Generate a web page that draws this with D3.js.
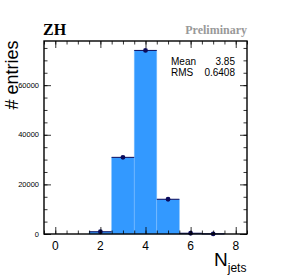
<!DOCTYPE html>
<html>
<head>
<meta charset="utf-8">
<script src="https://cdn.jsdelivr.net/npm/d3@7"></script>
<style>
  body { margin: 0; background: #fff; }
  svg { display: block; font-family: "Liberation Sans", Arial, sans-serif; }
</style>
</head>
<body>
<div id="chart"></div>
<script>
// histogram contents, bins centred on integer jet multiplicities
const binCenters = [0, 1, 2, 3, 4, 5, 6, 7, 8];
const entries = [0, 0, 900, 30900, 74000, 14000, 300, 50, 0];
const xTicks = [0, 2, 4, 6, 8];
const yTicks = [0, 20000, 40000, 60000];
const statsLabels = ["Mean", "RMS"];
const statsValues = ["3.85", "0.6408"];

const width = 291, height = 276;
const margin = {top: 41, right: 44, bottom: 42, left: 44};

const svg = d3.select('#chart').append('svg')
    .attr('width', width).attr('height', height);

const x = d3.scaleLinear([-0.5, 8.5], [margin.left, width - margin.right]);
const y = d3.scaleLinear([0, 77800], [height - margin.bottom, margin.top]);

const fill = '#3399ff', navy = '#0b0b5c';

// bars
svg.append('g').selectAll('rect')
    .data(binCenters.map((c, i) => [c, entries[i]]).filter(d => d[1] > 0))
    .join('rect')
    .attr('x', d => x(d[0] - 0.5))
    .attr('y', d => y(d[1]))
    .attr('width', d => x(d[0] + 0.5) - x(d[0] - 0.5))
    .attr('height', d => y(0) - y(d[1]))
    .attr('fill', fill)
    .attr('stroke', '#7fbfff')
    .attr('stroke-width', 0.6);

// points with x error lines
const pts = svg.append('g');
binCenters.forEach((c, i) => {
  if (entries[i] <= 0) return;
  pts.append('line')
      .attr('x1', x(c - 0.5)).attr('x2', x(c + 0.5))
      .attr('y1', y(entries[i])).attr('y2', y(entries[i]))
      .attr('stroke', navy).attr('stroke-width', 1);
  pts.append('circle')
      .attr('cx', x(c)).attr('cy', y(entries[i]))
      .attr('r', 2.4).attr('fill', navy);
});

// axes: bottom/top and left/right with minor ticks
const xMinor = d3.range(-0.5, 8.51, 0.5);
const yMinor = d3.range(0, 77800, 5000);

function ticks(gen, vals, size) {
  return gen.tickValues(vals).tickSize(size).tickFormat('');
}
const axes = [
  [d3.axisTop, `translate(0,${y(0)})`, x, xMinor, xTicks],
  [d3.axisBottom, `translate(0,${y.range()[1]})`, x, xMinor, xTicks],
  [d3.axisRight, `translate(${x.range()[0]},0)`, y, yMinor, yTicks],
  [d3.axisLeft, `translate(${x.range()[1]},0)`, y, yMinor, yTicks]
];
axes.forEach(([gen, tr, sc, minor, major]) => {
  const g = svg.append('g').attr('transform', tr);
  g.append('g').call(ticks(gen(sc), minor, 3.5));
  g.append('g').call(ticks(gen(sc), major, 7));
  g.selectAll('.domain').remove();
  g.selectAll('line').attr('stroke', '#000').attr('stroke-width', 0.8);
});

// frame
svg.append('rect')
    .attr('x', x.range()[0]).attr('y', y.range()[1])
    .attr('width', x.range()[1] - x.range()[0])
    .attr('height', y.range()[0] - y.range()[1])
    .attr('fill', 'none').attr('stroke', '#000').attr('stroke-width', 1.4);

// tick labels
svg.append('g').selectAll('text').data(xTicks).join('text')
    .attr('x', d => x(d)).attr('y', y(0) + 16)
    .attr('text-anchor', 'middle').attr('font-size', 12)
    .text(d => d);
svg.append('g').selectAll('text').data(yTicks).join('text')
    .attr('x', x.range()[0] - 5).attr('y', d => y(d) + 2.5)
    .attr('text-anchor', 'end').attr('font-size', 7.5)
    .text(d => d);

// axis titles
svg.append('text')
    .attr('transform', `translate(18,75) rotate(-90)`)
    .attr('text-anchor', 'middle').attr('font-size', 18)
    .text('# entries');
const xt = svg.append('text').attr('x', 214).attr('y', 266).attr('font-size', 19);
xt.append('tspan').text('N');
xt.append('tspan').attr('font-size', 12).attr('dy', 6).text('jets');

// titles
svg.append('text').attr('x', 43).attr('y', 35)
    .attr('font-family', '"Liberation Serif", "Times New Roman", serif')
    .attr('font-weight', 'bold').attr('font-size', 16).text('ZH');
svg.append('text').attr('x', 247).attr('y', 34)
    .attr('text-anchor', 'end').attr('fill', '#999')
    .attr('font-family', '"Liberation Serif", "Times New Roman", serif')
    .attr('font-weight', 'bold').attr('font-size', 12).text('Preliminary');

// stats box text
const stats = svg.append('g').attr('font-size', 10);
statsLabels.forEach((l, i) => {
  stats.append('text').attr('x', 171).attr('y', 65 + i * 11).text(l);
  stats.append('text').attr('x', 235).attr('y', 65 + i * 11)
      .attr('text-anchor', 'end').text(statsValues[i]);
});
</script>
</body>
</html>
